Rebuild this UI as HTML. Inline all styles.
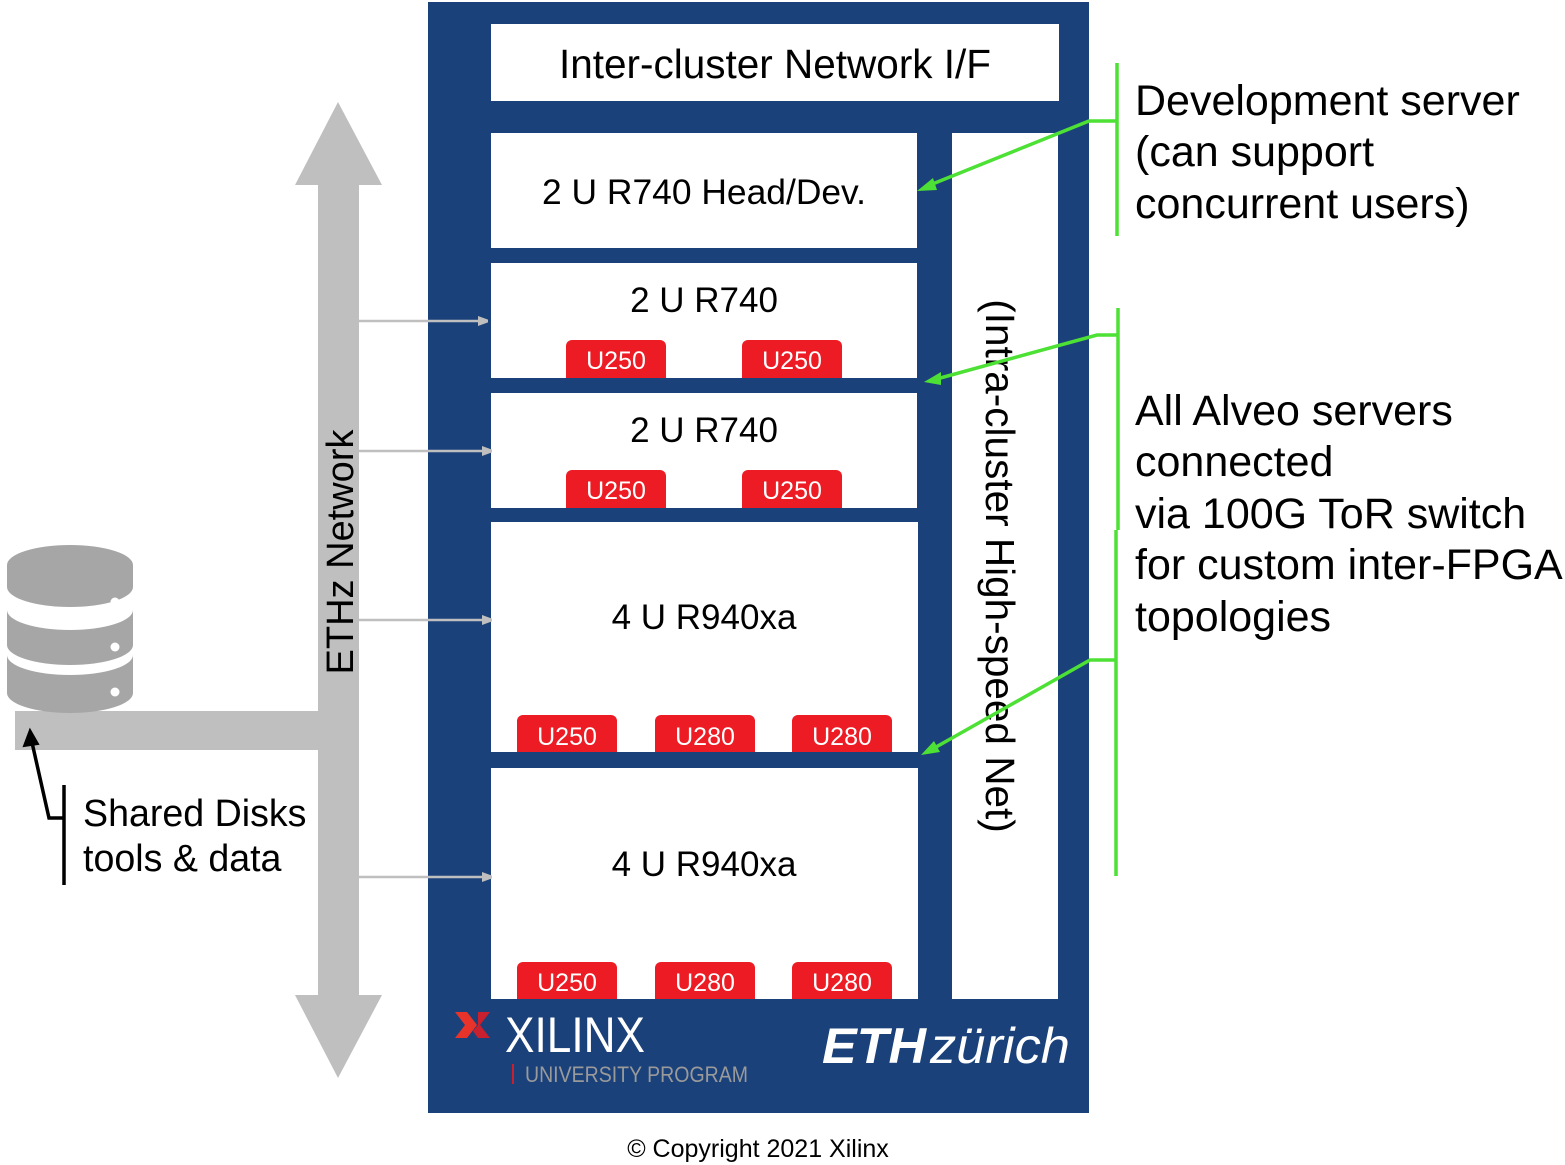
<!DOCTYPE html>
<html><head><meta charset="utf-8"><style>
html,body{margin:0;padding:0;background:#fff;}
svg{display:block;font-family:"Liberation Sans",Arial,sans-serif;}
</style></head><body>
<svg width="1565" height="1165" viewBox="0 0 1565 1165" xmlns="http://www.w3.org/2000/svg">
<defs>
<marker id="ga" markerWidth="10" markerHeight="10" refX="9" refY="5" orient="auto" markerUnits="userSpaceOnUse"><path d="M0,0 L14,5 L0,10 z" fill="#bfbfbf"/></marker>
</defs>
<rect x="428" y="2" width="661" height="1111" fill="#1b417a"/>
<rect x="491" y="24" width="568" height="77" fill="#fff"/>
<text x="775" y="78" font-size="40.5" text-anchor="middle">Inter-cluster Network I/F</text>
<rect x="952" y="133" width="106" height="866" fill="#fff"/>
<text transform="translate(986,566) rotate(90)" font-size="40.5" text-anchor="middle">(Intra-cluster High-speed Net)</text>

<rect x="491" y="133" width="426" height="115" fill="#fff"/>
<text x="704" y="204" font-size="35.4" text-anchor="middle">2 U R740 Head/Dev.</text>

<rect x="491" y="263" width="426" height="115" fill="#fff"/>
<text x="704" y="312" font-size="35" text-anchor="middle">2 U R740</text>
<rect x="491" y="393" width="426" height="115" fill="#fff"/>
<text x="704" y="442" font-size="35" text-anchor="middle">2 U R740</text>
<rect x="491" y="522" width="427" height="230" fill="#fff"/>
<text x="704" y="629" font-size="35" text-anchor="middle">4 U R940xa</text>
<rect x="491" y="768" width="427" height="231" fill="#fff"/>
<text x="704" y="876" font-size="35" text-anchor="middle">4 U R940xa</text>

<g fill="#ed1c24">
<path d="M566,378 V346 a6,6 0 0 1 6,-6 H660 a6,6 0 0 1 6,6 V378 z"/>
<path d="M742,378 V346 a6,6 0 0 1 6,-6 H836 a6,6 0 0 1 6,6 V378 z"/>
<path d="M566,508 V476 a6,6 0 0 1 6,-6 H660 a6,6 0 0 1 6,6 V508 z"/>
<path d="M742,508 V476 a6,6 0 0 1 6,-6 H836 a6,6 0 0 1 6,6 V508 z"/>
<path d="M517,752 V721 a6,6 0 0 1 6,-6 H611 a6,6 0 0 1 6,6 V752 z"/>
<path d="M655,752 V721 a6,6 0 0 1 6,-6 H749 a6,6 0 0 1 6,6 V752 z"/>
<path d="M792,752 V721 a6,6 0 0 1 6,-6 H886 a6,6 0 0 1 6,6 V752 z"/>
<path d="M517,999 V968 a6,6 0 0 1 6,-6 H611 a6,6 0 0 1 6,6 V999 z"/>
<path d="M655,999 V968 a6,6 0 0 1 6,-6 H749 a6,6 0 0 1 6,6 V999 z"/>
<path d="M792,999 V968 a6,6 0 0 1 6,-6 H886 a6,6 0 0 1 6,6 V999 z"/>
</g>
<g fill="#fff" font-size="25" text-anchor="middle">
<text x="616" y="369">U250</text><text x="792" y="369">U250</text>
<text x="616" y="499">U250</text><text x="792" y="499">U250</text>
<text x="567" y="745">U250</text><text x="705" y="745">U280</text><text x="842" y="745">U280</text>
<text x="567" y="991">U250</text><text x="705" y="991">U280</text><text x="842" y="991">U280</text>
</g>

<g>
<path d="M455,1012 h12 l10,13 l-10,13 h-12 l10,-13 z" fill="#e8332a"/>
<path d="M478,1012 h12 l-10,13 l10,13 h-12 l-5,-7 l5,-6 z" fill="#c8202f"/>
<text x="505" y="1052" font-size="50" fill="#fff" textLength="140" lengthAdjust="spacingAndGlyphs">XILINX</text>
<rect x="512" y="1064" width="2" height="20" fill="#c8202f"/>
<text x="525" y="1082" font-size="22" fill="#9a9a9a" textLength="223" lengthAdjust="spacingAndGlyphs">UNIVERSITY PROGRAM</text>
<text x="822" y="1063" font-size="50" font-weight="bold" font-style="italic" fill="#fff" textLength="104" lengthAdjust="spacingAndGlyphs">ETH</text>
<text x="930" y="1063" font-size="50" font-style="italic" fill="#fff" textLength="140" lengthAdjust="spacingAndGlyphs">zürich</text>
</g>

<path d="M338,102 L382,185 L359,185 L359,995 L382,995 L338,1078 L295,995 L318,995 L318,750 L15,750 L15,711 L318,711 L318,185 L295,185 z" fill="#bfbfbf"/>
<text transform="translate(353,552) rotate(-90)" font-size="38" text-anchor="middle">ETHz Network</text>
<g stroke="#bfbfbf" stroke-width="2.5" marker-end="url(#ga)">
<line x1="359" y1="321" x2="487" y2="321"/>
<line x1="359" y1="451" x2="491" y2="451"/>
<line x1="359" y1="620" x2="491" y2="620"/>
<line x1="359" y1="877" x2="491" y2="877"/>
</g>

<g fill="#a6a6a6">
<path d="M7,565 a63,20 0 0 1 126,0 v22 a63,20 0 0 1 -126,0 z"/>
<path d="M7,610 a63,20 0 0 0 126,0 v35 a63,20 0 0 1 -126,0 z"/>
<path d="M7,655 a63,20 0 0 0 126,0 v38 a63,20 0 0 1 -126,0 z"/>
</g>
<g fill="#fff"><circle cx="115" cy="602" r="4.5"/><circle cx="115" cy="647" r="4.5"/><circle cx="115" cy="692" r="4.5"/></g>

<path d="M64,785 V885 M64,818 H49 L31,738" stroke="#000" stroke-width="3.5" fill="none"/>
<path d="M30,730 L24,746 L38,744 z" fill="#000" stroke="#000" stroke-width="2"/>
<text x="83" y="826" font-size="37.6">Shared Disks</text>
<text x="83" y="871" font-size="37.6">tools &amp; data</text>

<g stroke="#4de035" stroke-width="3.5" fill="none">
<path d="M1117,63 V236 M1117,121 H1089 L925,187"/>
<path d="M1118,308 V530 M1116,530 V876 M1118,335 H1097 L933,380"/>
<path d="M1116,660 H1090 L929,751"/>
</g>
<g fill="#4de035">
<path d="M917,191 L933,178 L937,190 z"/>
<path d="M924,382 L941,372 L941,385 z"/>
<path d="M921,755 L934,741 L940,752 z"/>
</g>

<g font-size="43">
<text x="1135" y="115">Development server</text>
<text x="1135" y="166">(can support</text>
<text x="1135" y="218">concurrent users)</text>
<text x="1135" y="425">All Alveo servers</text>
<text x="1135" y="476">connected</text>
<text x="1135" y="528">via 100G ToR switch</text>
<text x="1135" y="579">for custom inter-FPGA</text>
<text x="1135" y="631">topologies</text>
</g>

<text x="758" y="1157" font-size="25" text-anchor="middle">© Copyright 2021 Xilinx</text>
</svg>
</body></html>
